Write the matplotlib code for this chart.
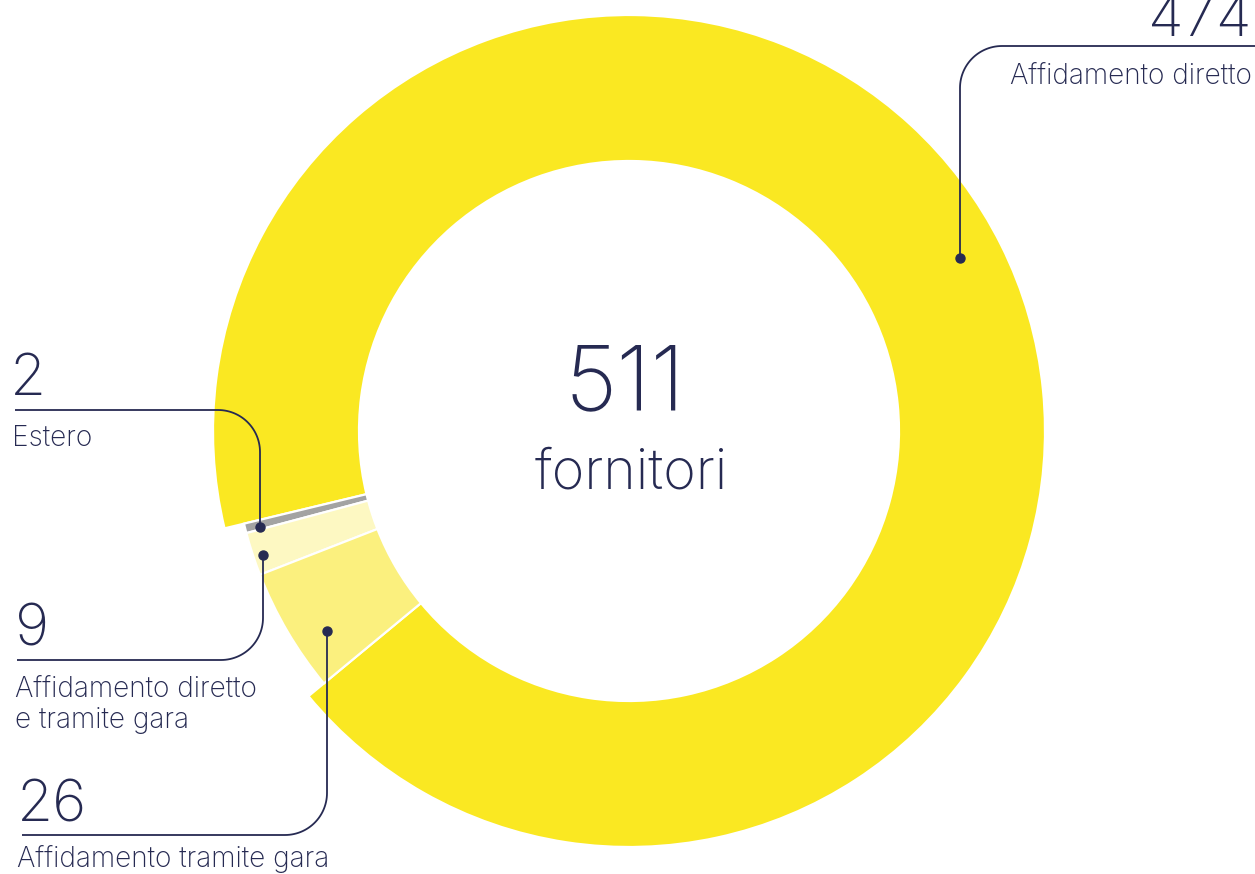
import numpy as np
import matplotlib
matplotlib.use("Agg")
import matplotlib.pyplot as plt

# ---- data ----
categories = ["Affidamento diretto", "Estero", "Affidamento diretto\ne tramite gara", "Affidamento tramite gara"]
values = [474, 2, 9, 26]
total_label = "511"
total_caption = "fornitori"
colors = ["#FAE822", "#A3A3A3", "#FDF8C2", "#FBF07E"]

W, H = 1255, 874
NAVY = "#262A52"
FONT = ["Inter", "DejaVu Sans"]

fig = plt.figure(figsize=(W / 100, H / 100), dpi=100)
ax = fig.add_axes([0, 0, 1, 1])

cx, cy = 629, H - 431
R_out, R_in, R_small = 416, 270, 396
wedges, _ = ax.pie(values, colors=colors, startangle=219.6, counterclock=True,
                   radius=R_out, center=(cx, cy),
                   wedgeprops=dict(width=R_out - R_in, edgecolor="white", linewidth=1.6))
for w in wedges[1:]:
    w.set_radius(R_small)
    w.set_width(R_small - R_in)

ax.set_xlim(0, W)
ax.set_ylim(0, H)
ax.set_aspect("equal")
ax.axis("off")


def leader(x0, y0, yc, xend, r=42):
    dy = np.sign(yc - y0)
    dx = np.sign(xend - x0)
    xs = [x0, x0]
    ys = [y0, yc - dy * r]
    ccx, ccy = x0 + dx * r, yc - dy * r
    t = np.linspace(0, np.pi / 2, 30)
    xs += list(ccx - dx * r * np.cos(t))
    ys += list(ccy + dy * r * np.sin(t))
    xs += [xend]
    ys += [yc]
    ax.plot(xs, [H - y for y in ys], color=NAVY, lw=1.3, solid_capstyle="butt")
    ax.plot([x0], [H - y0], "o", ms=6.5, color=NAVY)


# leaders (pixel layout, top-origin)
leader(960, 258, 46, 1255)
leader(260, 527, 410, 15)
leader(263, 555, 660, 17)
leader(327, 631, 835, 22)

num_fs = 42
lab_fs = 20.2


def txt(x, y, s, fs, ha="left", weight="light", **kw):
    ax.text(x, H - y, s, fontsize=fs, ha=ha, va="baseline", color=NAVY,
            family=FONT, fontweight=weight, linespacing=1.1, **kw)


txt(1252, 36, str(values[0]), num_fs, ha="right")
txt(1252, 84, categories[0], lab_fs, ha="right")

txt(10, 395, str(values[1]), num_fs)
txt(12, 446, categories[1], lab_fs)

txt(15, 645, str(values[2]), num_fs)
txt(15, 697, "Affidamento diretto", lab_fs)
txt(15, 728, "e tramite gara", lab_fs)

txt(17, 822, str(values[3]), num_fs)
txt(17, 867, categories[3], lab_fs)

txt(625, 410, total_label, 65, ha="center")
txt(631, 488, total_caption, 40, ha="center")

fig.savefig("out.png", dpi=100)
